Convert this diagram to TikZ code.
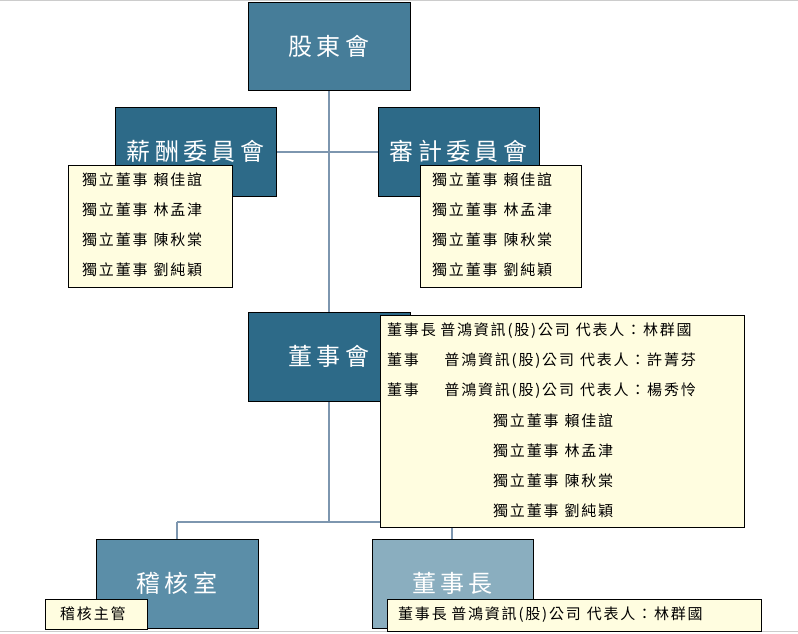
\documentclass[tikz,border=0pt]{standalone}
\usepackage{fontspec}
\newfontfamily\cjk{Noto Sans CJK TC}[LetterSpace=12]
\newfontfamily\cjkt{Noto Sans CJK TC}[LetterSpace=18]
\begin{document}
\begin{tikzpicture}[x=1pt,y=-1pt,
 box/.style={draw=black,line width=0.8pt,inner sep=0pt,text=white,font=\cjkt\fontsize{24}{24}\selectfont},
 lab/.style={draw=black,line width=0.6pt,fill=yellow!12,inner sep=0pt},
 txt/.style={anchor=west,inner sep=0pt,font=\cjk\fontsize{15}{15}\selectfont},
 ln/.style={draw={rgb,255:red,125;green,150;blue,175},line width=1.5pt}]
\useasboundingbox (0,0) rectangle (798,633);
\draw[gray!40] (0,0.5) -- (798,0.5);
\draw[gray!40] (0,631) -- (798,631);
% lines
\coordinate (j1) at (329,152);
\coordinate (j2) at (329,522);
\coordinate (jl) at (177,522);
\coordinate (jr) at (452,522);
\draw[ln] (329,90) -- (j2);
\draw[ln] (276,152) -- (378,152);
\draw[ln] (jl) -- (jr);
\draw[ln] (jl) -- (177,539);
\draw[ln] (jr) -- (452,539);
% boxes
\node[box,fill={rgb,255:red,70;green,125;blue,153},minimum width=162,minimum height=88] (sh) at (329,46) {股東會};
\node[box,fill={rgb,255:red,45;green,106;blue,136},minimum width=161,minimum height=89] (pay) at (195.5,151.5) {薪酬委員會};
\node[box,fill={rgb,255:red,45;green,106;blue,136},minimum width=161,minimum height=89] (aud) at (458.5,151.5) {審計委員會};
\node[box,fill={rgb,255:red,45;green,106;blue,136},minimum width=162,minimum height=89] (bd) at (329,356.5) {董事會};
\node[box,fill={rgb,255:red,91;green,142;blue,168},minimum width=162,minimum height=89] (ia) at (177,583.5) {稽核室};
\node[box,fill={rgb,255:red,138;green,174;blue,191},minimum width=161,minimum height=89] (ch) at (452.5,583.5) {董事長};
% left label
\node[lab,minimum width=164,minimum height=122] (l1) at (150,226) {};
\foreach \t [count=\i] in {賴佳誼,林孟津,陳秋棠,劉純穎}
 \node[txt] (l1r\i) at (82,150+30*\i) {獨立董事\hspace{0.4em}\t};
\node[lab,minimum width=161,minimum height=122] (l2) at (500.5,226) {};
\foreach \t [count=\i] in {賴佳誼,林孟津,陳秋棠,劉純穎}
 \node[txt] (l2r\i) at (432,150+30*\i) {獨立董事\hspace{0.4em}\t};
% big label
\node[lab,minimum width=364,minimum height=212] (l3) at (562,421) {};
\node[txt] (b1) at (387,331) {董事長\hspace{0.3em}普鴻資訊(股)公司\hspace{0.4em}代表人：林群國};
\node[txt] (b2) at (387,361) {董事\hspace{1.7em}普鴻資訊(股)公司\hspace{0.4em}代表人：許菁芬};
\node[txt] (b3) at (387,391) {董事\hspace{1.7em}普鴻資訊(股)公司\hspace{0.4em}代表人：楊秀怜};
\foreach \t [count=\i] in {賴佳誼,林孟津,陳秋棠,劉純穎}
 \node[txt] (b3r\i) at (493,391+30*\i) {獨立董事\hspace{0.4em}\t};
% bottom labels
\node[lab,minimum width=102,minimum height=30] (l4) at (96,614) {};
\node[txt] (l4t) at (60,614) {稽核主管};
\node[lab,minimum width=374,minimum height=32] (l5) at (574,615) {};
\node[txt] (l5t) at (398,615) {董事長\hspace{0.3em}普鴻資訊(股)公司\hspace{0.4em}代表人：林群國};
\end{tikzpicture}
\end{document}
